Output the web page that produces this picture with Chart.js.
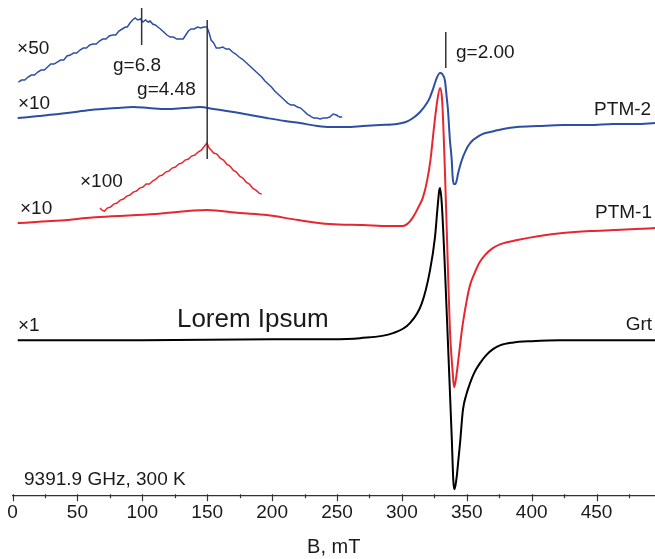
<!DOCTYPE html>
<html>
<head>
<meta charset="utf-8">
<script src="https://cdn.jsdelivr.net/npm/chart.js@4/dist/chart.umd.min.js"></script>
<style>
    html, body { margin: 0; padding: 0; background: #fff; }
    #epr { display: block; }
</style>
</head>
<body>
<canvas id="epr" width="655" height="559"></canvas>
<script>
// B field (mT) and signal (arb. units, offset per trace)
const ptm2Field = [4, 20, 42, 60, 80, 93, 105, 119, 132, 144.5, 155, 170, 183, 196, 210, 221.5, 235, 244.6, 257, 270, 283, 296, 303, 308.6, 314, 319.3, 321.7, 324, 326.8, 329.4, 331.1, 333.2, 334.5, 335.5, 337, 338.4, 339.1, 340.1, 341.2, 342.3, 343.2, 345, 347, 349, 351, 354.8, 358, 362, 368, 378, 388.7, 405, 424.1, 445, 462.6, 480, 495];
const ptm2Signal = [377, 379, 382, 385, 387, 388, 387, 386, 387, 388, 386, 383, 380, 377, 374, 372, 369, 368, 368, 369, 370, 371, 373, 377, 383, 392, 398, 406, 417, 422, 421, 414, 398, 385, 355, 335, 318, 311, 311, 315, 321, 330, 338, 344, 349, 355, 358, 361, 363, 366, 368, 369, 370, 370, 371, 371, 372];

const ptm2x50Field = [4.5, 7, 9.5, 12, 14.5, 17, 19.5, 22, 24.5, 27, 29.5, 32, 34.5, 37, 39.5, 42, 44.5, 47, 49.5, 52, 54.5, 57, 59.5, 62, 64.5, 67, 69.5, 72, 74.5, 77, 79.5, 82, 84.5, 87, 88.5, 90.5, 92.5, 94.5, 96.5, 98.5, 100.5, 102.5, 104.5, 106, 108, 110, 112, 114, 116.5, 119, 121.5, 124, 126.5, 129, 131.5, 133.5, 135.5, 137.5, 140, 142.5, 145, 147.5, 149.8, 151.5, 153, 155, 157, 159.5, 162, 164.5, 167, 169.5, 172, 174.5, 177, 179.5, 182, 184.5, 187, 189.5, 192, 194.5, 197, 199.5, 202, 204.5, 207, 209.5, 212, 214.5, 217, 219.5, 222, 224.5, 227, 229.5, 232, 234.5, 237, 239.5, 242, 244.5, 247, 249.5, 252, 254];
const ptm2x50Signal = [413, 415, 415, 418, 420, 420, 423, 425, 425, 428, 431, 431, 433, 435, 435, 439, 440, 442, 442, 445, 447, 447, 450, 451, 451, 454, 456, 456, 459, 460, 460, 464, 466, 468, 468, 472, 475, 477, 475, 476, 473, 475, 473, 474, 471, 470, 468, 466, 463, 460, 458, 458, 456, 456, 456, 460, 464, 466, 466, 468, 467, 468, 468, 462, 455, 452, 447, 447, 448, 446, 446, 443, 441, 438, 436, 433, 430, 427, 424, 421, 418, 414, 411, 408, 404, 401, 398, 395, 392, 390, 390, 388, 387, 384, 381, 379, 377, 377, 376, 377, 377, 378, 381, 380, 378, 378];

const ptm1Field = [4, 30, 67.4, 110, 149.8, 175, 196, 220, 244.6, 270, 290, 300.8, 305, 308.6, 312, 316.3, 319.5, 322, 324.5, 327, 329.4, 331, 333, 335.5, 337, 339, 340.2, 341.5, 343.2, 345, 347, 350, 352.5, 356, 360, 364, 370, 376, 389, 406, 424, 445, 463, 480, 495];
const ptm1Signal = [272, 274, 278, 281, 285, 282, 280, 275, 271, 270, 269, 269, 272, 278, 286, 298, 315, 335, 365, 392, 407, 395, 330, 225, 165, 125, 108, 115, 132, 152, 172, 195, 210, 222, 233, 240, 247, 251, 255, 259, 262, 264, 265, 266, 267];

const ptm1x100Field = [67.4, 69, 71, 73, 75.5, 78, 80.5, 83, 85.5, 88, 90.5, 93, 95.5, 98, 100.5, 103, 105.5, 108, 110.5, 113, 115.5, 118, 120.5, 123, 125.5, 128, 130.5, 133, 135.5, 138, 140.5, 143, 145.5, 148, 149.8, 151.5, 153, 155, 157.5, 160, 162.5, 165, 167.5, 170, 172.5, 175, 177.5, 180, 182.5, 185, 187.5, 190, 192];
const ptm1x100Signal = [287, 285, 284, 287, 288, 291, 292, 295, 296, 299, 300, 303, 304, 307, 308, 311, 311, 314, 316, 319, 320, 323, 324, 327, 328, 331, 332, 335, 336, 339, 340, 343, 345, 349, 352, 347, 345, 342, 341, 337, 335, 331, 329, 325, 323, 319, 317, 313, 311, 307, 305, 302, 301];

const grtField = [4, 100, 200, 244.6, 267.7, 293.2, 306.2, 315.4, 321.7, 325.5, 327.3, 328.8, 329.4, 330.7, 333.2, 335.8, 338.4, 339.6, 340.4, 341.3, 342.2, 343.5, 344.8, 347, 349.5, 352.5, 356, 360.2, 365, 370.2, 376, 385, 400, 421.8, 460, 495];
const grtSignal = [155, 155, 156, 156, 157, 162, 172, 192, 225, 258, 285, 305, 307, 292, 225, 142, 58, 15, 6, 10, 18, 35, 52, 85, 100, 112, 123, 132, 140, 146, 150, 152.5, 154, 155, 155, 155];

// g-value markers
const markerField = [99.5, 150, 333.8];
const markerTop = [487, 475, 463];
const markerBottom = [450, 336, 427];

const xTicks = { min: 0, max: 495, step: 50, minorStep: 25 };

const BLUE = '#2c4fa3';
const RED = '#e8262f';
const FONT = '"Liberation Sans", Arial, sans-serif';

function zip(xs, ys) {
    return xs.map((x, i) => ({ x: x, y: ys[i] }));
}

function line(data, color, width, smooth) {
    return {
        data: data,
        borderColor: color,
        borderWidth: width,
        pointRadius: 0,
        fill: false,
        tension: smooth ? 0.4 : 0,
        cubicInterpolationMode: smooth ? 'monotone' : 'default'
    };
}

const markerSets = markerField.map((b, i) =>
    line([{ x: b, y: markerBottom[i] }, { x: b, y: markerTop[i] }], '#333', 1.5, false));

// text annotations placed at (B, signal)
const notes = [
    { text: '×50', x: 3.5, y: 446, align: 'left' },
    { text: 'g=6.8', x: 77.4, y: 429, align: 'left' },
    { text: 'g=4.48', x: 96, y: 405, align: 'left' },
    { text: '×10', x: 4.2, y: 391, align: 'left' },
    { text: 'PTM-2', x: 492, y: 385, align: 'right' },
    { text: 'g=2.00', x: 341.7, y: 442, align: 'left' },
    { text: '×100', x: 52, y: 313, align: 'left' },
    { text: '×10', x: 5.8, y: 286, align: 'left' },
    { text: 'PTM-1', x: 492.7, y: 282, align: 'right' },
    { text: '×1', x: 4.2, y: 169, align: 'left' },
    { text: 'Lorem Ipsum', x: 126.7, y: 175, align: 'left', size: 26 },
    { text: 'Grt', x: 492.7, y: 170, align: 'right' },
    { text: '9391.9 GHz, 300 K', x: 8.9, y: 15, align: 'left' }
];

const notesPlugin = {
    id: 'notes',
    afterDatasetsDraw(chart) {
        const { ctx, scales: { x, y } } = chart;
        ctx.save();
        ctx.fillStyle = '#1a1a1a';
        ctx.textBaseline = 'middle';
        notes.forEach(n => {
            ctx.font = `${n.size || 19}px ${FONT}`;
            ctx.textAlign = n.align;
            ctx.fillText(n.text, x.getPixelForValue(n.x), y.getPixelForValue(n.y));
        });
        ctx.restore();
    }
};

const tickMarks = {
    id: 'tickMarks',
    afterDraw(chart) {
        const { ctx, scales: { x } } = chart;
        const base = x.top;
        ctx.save();
        ctx.strokeStyle = '#333';
        ctx.lineWidth = 1.2;
        for (let v = xTicks.min; v <= xTicks.max; v += xTicks.minorStep) {
            const px = Math.round(x.getPixelForValue(v)) + 0.5;
            const len = v % xTicks.step === 0 ? 6 : 3;
            ctx.beginPath();
            ctx.moveTo(px, base - 1);
            ctx.lineTo(px, base + len);
            ctx.stroke();
        }
        ctx.restore();
    }
};

const ctx = document.getElementById('epr').getContext('2d');
new Chart(ctx, {
    type: 'line',
    data: {
        datasets: [
            ...markerSets,
            line(zip(ptm2x50Field, ptm2x50Signal), BLUE, 1.5, false),
            line(zip(ptm2Field, ptm2Signal), BLUE, 2, true),
            line(zip(ptm1x100Field, ptm1x100Signal), RED, 1.5, false),
            line(zip(ptm1Field, ptm1Signal), RED, 2, true),
            line(zip(grtField, grtSignal), '#000', 2, true)
        ]
    },
    options: {
        responsive: false,
        animation: false,
        layout: { padding: { left: 12.5, right: 0, top: 0, bottom: 0 } },
        plugins: {
            legend: { display: false },
            tooltip: { enabled: false }
        },
        scales: {
            x: {
                type: 'linear',
                min: xTicks.min,
                max: xTicks.max,
                grid: { display: false, drawTicks: false, tickLength: 0 },
                border: { display: true, color: '#333', width: 1.2 },
                ticks: {
                    stepSize: xTicks.step,
                    includeBounds: false,
                    padding: 6,
                    color: '#1a1a1a',
                    font: { family: FONT, size: 19 },
                    maxRotation: 0
                },
                title: {
                    display: true,
                    text: 'B, mT',
                    color: '#1a1a1a',
                    font: { family: FONT, size: 20 },
                    padding: { top: 5, bottom: 0 }
                }
            },
            y: {
                display: false,
                min: 0,
                max: 495
            }
        }
    },
    plugins: [notesPlugin, tickMarks]
});
</script>
</body>
</html>
